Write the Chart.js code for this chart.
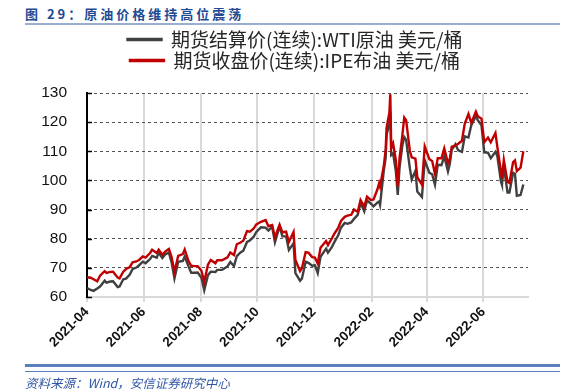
<!DOCTYPE html>
<html>
<head>
<meta charset="utf-8">
<script src="https://cdn.jsdelivr.net/npm/chart.js@4.4.0/dist/chart.umd.min.js"></script>
<style>
    html, body { margin: 0; padding: 0; background: #fff; }
    #wrap { position: relative; width: 568px; height: 392px; overflow: hidden; }
    #title { position: absolute; left: 25px; top: 4px; font: bold 13px "Noto Sans CJK SC"; letter-spacing: 3px; color: #1F4A94; white-space: nowrap; }
    #tline { position: absolute; left: 25px; top: 23px; width: 535px; height: 2px; background: #9AAFD0; }
    #fline1 { position: absolute; left: 25px; top: 364px; width: 535px; height: 3px; background: #5B7EBD; }
    #fline2 { position: absolute; left: 25px; top: 371px; width: 535px; height: 1px; background: #5B7EBD; }
    #source { position: absolute; left: 25px; top: 373px; font: italic 12.5px "Noto Sans CJK SC"; color: #2F55A4; white-space: nowrap; }
    canvas { position: absolute; left: 0; top: 0; }
</style>
</head>
<body>
<div id="wrap">
    <div id="title">图 29：原油价格维持高位震荡</div>
    <div id="tline"></div>
    <canvas id="grafico" width="568" height="392"></canvas>
    <div id="fline1"></div>
    <div id="fline2"></div>
    <div id="source">资料来源：Wind，安信证券研究中心</div>
</div>
<script>
// trading dates (sampled) and prices, USD/bbl
const dates = [
    '2021-04-16', '2021-04-20', '2021-04-23', '2021-04-27', '2021-04-30',
    '2021-05-05', '2021-05-07', '2021-05-11', '2021-05-14', '2021-05-19', '2021-05-21', '2021-05-25', '2021-05-28',
    '2021-06-01', '2021-06-04', '2021-06-08', '2021-06-11', '2021-06-15', '2021-06-18', '2021-06-23', '2021-06-25', '2021-06-30',
    '2021-07-02', '2021-07-06', '2021-07-09', '2021-07-13', '2021-07-16', '2021-07-19', '2021-07-23', '2021-07-28', '2021-07-30',
    '2021-08-03', '2021-08-06', '2021-08-10', '2021-08-13', '2021-08-17', '2021-08-20', '2021-08-24', '2021-08-27',
    '2021-09-01', '2021-09-03', '2021-09-08', '2021-09-10', '2021-09-14', '2021-09-17', '2021-09-21', '2021-09-24', '2021-09-28',
    '2021-10-01', '2021-10-05', '2021-10-08', '2021-10-12', '2021-10-15', '2021-10-20', '2021-10-25', '2021-10-28',
    '2021-11-01', '2021-11-04', '2021-11-09', '2021-11-12', '2021-11-16', '2021-11-19', '2021-11-24', '2021-11-26',
    '2021-12-01', '2021-12-03', '2021-12-07', '2021-12-10', '2021-12-14', '2021-12-17', '2021-12-20', '2021-12-23', '2021-12-29', '2021-12-31',
    '2022-01-04', '2022-01-07', '2022-01-11', '2022-01-14', '2022-01-18', '2022-01-21', '2022-01-25', '2022-01-28',
    '2022-02-01', '2022-02-04', '2022-02-08', '2022-02-11', '2022-02-15', '2022-02-18', '2022-02-22', '2022-02-24', '2022-02-25',
    '2022-03-01', '2022-03-03', '2022-03-04', '2022-03-07', '2022-03-08', '2022-03-09', '2022-03-11', '2022-03-14', '2022-03-16', '2022-03-18', '2022-03-21', '2022-03-23', '2022-03-25', '2022-03-29', '2022-03-31',
    '2022-04-04', '2022-04-06', '2022-04-11', '2022-04-14', '2022-04-19', '2022-04-22', '2022-04-25', '2022-04-28',
    '2022-05-02', '2022-05-05', '2022-05-09', '2022-05-11', '2022-05-13', '2022-05-17', '2022-05-20', '2022-05-24', '2022-05-27', '2022-05-31',
    '2022-06-03', '2022-06-08', '2022-06-10', '2022-06-14', '2022-06-17', '2022-06-21', '2022-06-24', '2022-06-29',
    '2022-07-01', '2022-07-05', '2022-07-06', '2022-07-08', '2022-07-12', '2022-07-14', '2022-07-18', '2022-07-20', '2022-07-22', '2022-07-26', '2022-07-29'
];

const wtiSettle = [
    63.1, 62.4, 62.1, 62.9, 63.6,
    65.6, 64.9, 65.3, 65.4, 63.4, 63.6, 66.1, 66.3,
    67.7, 69.6, 70.1, 70.9, 72.1, 71.6, 73.1, 74.1, 73.5,
    75.2, 73.4, 74.6, 75.3, 71.8, 66.4, 72.1, 72.4, 73.9,
    70.6, 68.3, 68.3, 68.4, 66.6, 62.3, 67.5, 68.7,
    68.6, 69.3, 69.3, 69.7, 70.5, 72.0, 70.6, 74.0, 75.3,
    75.9, 78.9, 79.4, 80.6, 82.3, 83.9, 83.8, 82.8,
    84.1, 78.8, 84.2, 80.8, 80.8, 76.1, 78.4, 68.2,
    65.6, 66.3, 72.1, 71.7, 70.7, 70.9, 68.2, 73.8, 76.6, 75.2,
    77.0, 78.9, 81.2, 83.8, 85.4, 85.1, 85.6, 86.8,
    88.2, 92.3, 89.4, 93.1, 92.1, 91.1, 92.4, 92.8, 91.6,
    103.4, 107.7, 115.7, 119.4, 123.7, 108.7, 109.3, 103.0, 95.0, 104.7, 112.1, 114.9, 113.9, 104.2, 100.3,
    103.3, 96.2, 94.3, 106.9, 102.6, 102.1, 98.5, 105.4,
    105.2, 108.3, 103.1, 105.7, 110.5, 112.4, 110.3, 109.8, 115.1, 114.7,
    118.9, 122.1, 120.7, 118.9, 109.6, 109.5, 107.6, 109.8,
    108.4, 99.5, 98.5, 104.8, 95.8, 95.8, 102.6, 102.3, 94.7, 95.0, 98.6
];

const brentClose = [
    66.8, 66.6, 66.1, 65.4, 67.3,
    68.9, 68.3, 68.6, 68.7, 66.7, 66.4, 68.7, 69.6,
    70.3, 71.9, 72.2, 72.7, 73.9, 73.5, 75.2, 76.2, 75.1,
    76.2, 74.5, 75.6, 76.5, 73.6, 68.6, 74.1, 74.7, 76.3,
    72.4, 70.7, 70.6, 70.6, 69.0, 65.2, 71.1, 72.7,
    71.6, 72.6, 72.6, 72.9, 73.6, 75.3, 74.4, 78.1, 78.7,
    79.3, 82.6, 82.4, 83.4, 84.9, 85.8, 86.4, 84.3,
    84.7, 80.5, 84.8, 82.2, 82.4, 78.9, 82.3, 72.7,
    68.9, 69.9, 75.4, 75.2, 73.7, 73.5, 71.5, 76.9, 79.2, 77.8,
    80.0, 81.8, 83.7, 86.1, 87.5, 87.9, 88.2, 90.0,
    89.2, 93.3, 91.0, 94.4, 93.3, 93.5, 96.8, 99.1, 97.9,
    105.0, 110.5, 118.1, 123.2, 129.6, 111.1, 112.7, 106.9, 98.0, 107.9, 115.6, 121.6, 120.7, 110.2, 107.9,
    107.5, 101.1, 98.5, 111.7, 107.3, 106.7, 102.3, 107.6,
    107.6, 111.0, 105.9, 107.5, 111.6, 111.9, 112.6, 113.6, 119.4, 122.8,
    119.7, 123.6, 122.0, 121.2, 113.1, 114.7, 113.1, 116.3,
    111.6, 102.8, 100.7, 107.0, 99.5, 99.1, 106.3, 106.9, 103.2, 104.4, 110.0
];

const tickLabels = ['2021-04', '2021-06', '2021-08', '2021-10', '2021-12', '2022-02', '2022-04', '2022-06'];
const axisStart = '2021-04-16';
const axisEnd = '2022-08-03';

const dayOf = s => Math.round((Date.parse(s) - Date.parse(axisStart)) / 864e5);
const tickDays = tickLabels.map(l => dayOf(l + '-16'));

// legend: fixed height, nudged right to sit over the plot
const legendSpace = {
    id: 'legendSpace',
    beforeInit(chart) {
        const lg = chart.legend;
        const fit = lg.fit;
        lg.fit = function () {
            fit.bind(lg)();
            this.height = 65;
        };
        const draw = lg.draw;
        lg.draw = function () {
            this.ctx.save();
            this.ctx.translate(31, 0);
            draw.apply(lg, arguments);
            this.ctx.restore();
        };
    }
};

// small inner tick marks on the value axis
const innerTicks = {
    id: 'innerTicks',
    afterDraw(chart) {
        const { ctx, scales: { y } } = chart;
        ctx.save();
        ctx.strokeStyle = '#000';
        ctx.lineWidth = 1.5;
        y.ticks.forEach(t => {
            const py = Math.round(y.getPixelForValue(t.value)) + 0.5;
            ctx.beginPath();
            ctx.moveTo(y.right, py);
            ctx.lineTo(y.right + 5, py);
            ctx.stroke();
        });
        ctx.restore();
    }
};

const graficoCanvas = document.getElementById('grafico');
new Chart(graficoCanvas, {
    type: 'line',
    data: {
        datasets: [{
            label: '期货结算价(连续):WTI原油 美元/桶',
            data: dates.map((d, i) => ({ x: dayOf(d), y: wtiSettle[i] })),
            borderColor: '#404040',
            backgroundColor: '#404040',
            borderWidth: 2.4,
            pointRadius: 0,
            order: 2
        }, {
            label: '期货收盘价(连续):IPE布油 美元/桶',
            data: dates.map((d, i) => ({ x: dayOf(d), y: brentClose[i] })),
            borderColor: '#C00000',
            backgroundColor: '#C00000',
            borderWidth: 2.4,
            pointRadius: 0,
            order: 1
        }]
    },
    options: {
        responsive: false,
        animation: false,
        devicePixelRatio: 1,
        layout: { padding: { top: 28, left: 0, right: 40, bottom: 35 } },
        plugins: {
            legend: {
                position: 'top',
                labels: {
                    font: { family: 'Noto Sans CJK SC', size: 19 },
                    color: '#262626',
                    boxWidth: 34,
                    boxHeight: 1,
                    padding: 2,
                    sort: (a, b) => a.datasetIndex - b.datasetIndex
                }
            },
            tooltip: { enabled: false }
        },
        scales: {
            x: {
                type: 'linear',
                min: 0,
                max: dayOf(axisEnd),
                afterBuildTicks: scale => { scale.ticks = tickDays.map(v => ({ value: v })); },
                afterFit: scale => { scale.height = 60; },
                ticks: {
                    autoSkip: false,
                    minRotation: 45,
                    maxRotation: 45,
                    padding: 2,
                    color: '#111',
                    font: { family: 'Liberation Sans', size: 13.5, weight: 'bold' },
                    callback: v => tickLabels[tickDays.indexOf(v)]
                },
                grid: {
                    color: c => (c.tick && c.tick.value === 0) ? 'rgba(0,0,0,0)' : '#d9d9d9',
                    tickColor: '#d9d9d9',
                    lineWidth: 2,
                    tickLength: 5
                },
                border: { color: '#d9d9d9', width: 2 }
            },
            y: {
                min: 60,
                max: 130,
                afterFit: scale => { scale.width = 87; },
                ticks: {
                    stepSize: 10,
                    padding: 20,
                    color: '#111',
                    font: { family: 'Liberation Sans', size: 15.5 }
                },
                grid: {
                    color: c => (c.tick && c.tick.value === 60) ? 'rgba(0,0,0,0)' : '#555',
                    lineWidth: 1,
                    drawTicks: false
                },
                border: { color: '#000', width: 2, dash: [3, 3] }
            }
        }
    },
    plugins: [legendSpace, innerTicks]
});
</script>
</body>
</html>
